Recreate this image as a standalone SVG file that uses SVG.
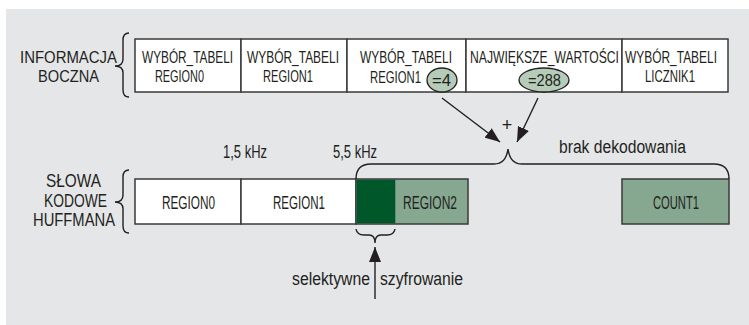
<svg xmlns="http://www.w3.org/2000/svg" width="749" height="325" viewBox="0 0 749 325">
  <defs>
    <style>
      .t { font-family: "Liberation Sans", Arial, sans-serif; font-size: 18px; fill: #231f20; }
      .s { font-size: 17px; }
      .m { text-anchor: middle; }
      .box { fill: #ffffff; stroke: #3a3a3a; stroke-width: 1.5; }
      .lg { fill: #86a891; stroke: #3a3a3a; stroke-width: 1.5; }
      .dg { fill: #00582a; }
      .br { fill: none; stroke: #231f20; stroke-width: 1.4; }
      .ov { fill: #b4ccb8; stroke: #231f20; stroke-width: 1.3; }
      .ln { fill: none; stroke: #231f20; stroke-width: 1.4; }
    </style>
    <marker id="ah" markerUnits="userSpaceOnUse" markerWidth="16" markerHeight="12" refX="15" refY="6" orient="auto">
      <path d="M0,0 L15,6 L0,12 Z" fill="#231f20"/>
    </marker>
  </defs>

  <!-- panel -->
  <rect x="0" y="0" width="749" height="325" fill="#ffffff"/>
  <rect x="6" y="9" width="743" height="316" fill="#e5e6e8"/>

  <!-- side information row -->
  <g id="side-info-label">
    <text class="t s" x="20" y="63" textLength="97" lengthAdjust="spacingAndGlyphs">INFORMACJA</text>
    <text class="t s" x="38" y="82" textLength="61" lengthAdjust="spacingAndGlyphs">BOCZNA</text>
    <path class="br" d="M129,33 Q123,33 123,40 L123,59 Q123,66 115,66 Q123,66 123,73 L123,90 Q123,97 129,97"/>
  </g>
  <g id="side-1">
    <rect class="box" x="135" y="39" width="106" height="53"/>
    <text class="t s" x="142" y="63" textLength="91" lengthAdjust="spacingAndGlyphs">WYBÓR_TABELI</text>
    <text class="t s" x="155" y="82" textLength="49" lengthAdjust="spacingAndGlyphs">REGION0</text>
  </g>
  <g id="side-2">
    <rect class="box" x="241" y="39" width="106" height="53"/>
    <text class="t s" x="247" y="63" textLength="92" lengthAdjust="spacingAndGlyphs">WYBÓR_TABELI</text>
    <text class="t s" x="263" y="82" textLength="50" lengthAdjust="spacingAndGlyphs">REGION1</text>
  </g>
  <g id="side-3">
    <rect class="box" x="347" y="39" width="119" height="53"/>
    <text class="t s" x="360" y="63" textLength="92" lengthAdjust="spacingAndGlyphs">WYBÓR_TABELI</text>
    <text class="t s" x="370" y="83" textLength="51" lengthAdjust="spacingAndGlyphs">REGION1</text>
    <ellipse class="ov" cx="442" cy="80" rx="15" ry="12"/>
    <text class="t s" x="432" y="86" textLength="19" lengthAdjust="spacingAndGlyphs">=4</text>
  </g>
  <g id="side-4">
    <rect class="box" x="466" y="39" width="156" height="53"/>
    <text class="t s" x="470" y="63" textLength="149" lengthAdjust="spacingAndGlyphs">NAJWIĘKSZE_WARTOŚCI</text>
    <ellipse class="ov" cx="544" cy="80" rx="25" ry="12"/>
    <text class="t s" x="528" y="86" textLength="33" lengthAdjust="spacingAndGlyphs">=288</text>
  </g>
  <g id="side-5">
    <rect class="box" x="622" y="39" width="106" height="53"/>
    <text class="t s" x="625" y="63" textLength="92" lengthAdjust="spacingAndGlyphs">WYBÓR_TABELI</text>
    <text class="t s" x="645" y="82" textLength="50" lengthAdjust="spacingAndGlyphs">LICZNIK1</text>
  </g>

  <!-- Huffman codewords row -->
  <g id="huffman-label">
    <text class="t" x="46" y="187" textLength="55" lengthAdjust="spacingAndGlyphs">SŁOWA</text>
    <text class="t" x="44" y="207" textLength="63" lengthAdjust="spacingAndGlyphs">KODOWE</text>
    <text class="t" x="33" y="226" textLength="82" lengthAdjust="spacingAndGlyphs">HUFFMANA</text>
    <path class="br" d="M129,170 Q123,170 123,177 L123,195 Q123,202 115,202 Q123,202 123,209 L123,226 Q123,233 129,233"/>
  </g>
  <g id="region0">
    <rect class="box" x="135" y="179" width="106" height="45"/>
    <text class="t" x="162" y="209" textLength="53" lengthAdjust="spacingAndGlyphs">REGION0</text>
  </g>
  <g id="region1">
    <rect class="box" x="241" y="179" width="115" height="45"/>
    <text class="t" x="273" y="209" textLength="52" lengthAdjust="spacingAndGlyphs">REGION1</text>
  </g>
  <g id="region2">
    <rect class="lg" x="356" y="179" width="112" height="45"/>
    <rect class="dg" x="356.8" y="179.8" width="38.5" height="43.4"/>
    <text class="t" x="403" y="209" textLength="54" lengthAdjust="spacingAndGlyphs">REGION2</text>
  </g>
  <g id="count1">
    <rect class="lg" x="622" y="179" width="107" height="45"/>
    <text class="t" x="653" y="209" textLength="46" lengthAdjust="spacingAndGlyphs">COUNT1</text>
  </g>

  <g id="freq-labels">
    <text class="t" x="223" y="158" textLength="44" lengthAdjust="spacingAndGlyphs">1,5 kHz</text>
    <text class="t" x="333" y="158" textLength="44" lengthAdjust="spacingAndGlyphs">5,5 kHz</text>
  </g>

  <g id="no-decoding">
    <text class="t" x="559" y="153" textLength="127" lengthAdjust="spacingAndGlyphs">brak dekodowania</text>
    <text class="t m" x="507" y="131">+</text>
  </g>

  <g id="selective">
    <text class="t" x="292" y="285" textLength="78" lengthAdjust="spacingAndGlyphs">selektywne</text>
    <text class="t" x="380" y="285" textLength="83" lengthAdjust="spacingAndGlyphs">szyfrowanie</text>
  </g>

  <!-- connectors -->
  <g id="connectors">
    <path class="br" d="M356,179 Q356,164 371,164 L494,164 Q506,164 508,149 Q510,164 522,164 L714,164 Q729,164 729,179"/>
    <path class="br" d="M356,229 Q357,235 364,235 L369,235 Q375,235 375,243 Q375,235 381,235 L387,235 Q394,235 395,229"/>
    <line class="ln" x1="442" y1="98" x2="500" y2="142" marker-end="url(#ah)"/>
    <line class="ln" x1="538" y1="98" x2="517" y2="142" marker-end="url(#ah)"/>
    <line class="ln" x1="375" y1="299" x2="375" y2="247" marker-end="url(#ah)"/>
  </g>
</svg>
